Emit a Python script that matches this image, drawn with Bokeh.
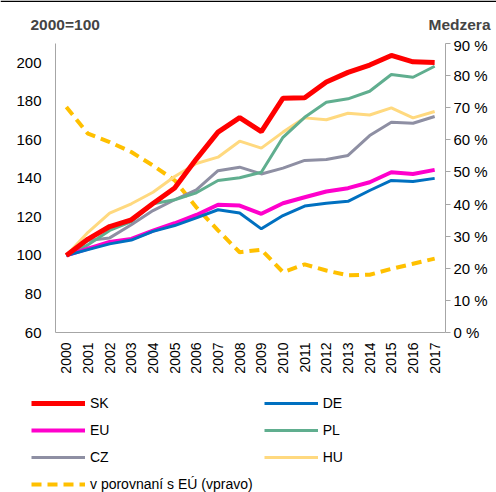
import math
from bokeh.plotting import figure
from bokeh.layouts import column, row
from bokeh.models import (Range1d, FactorRange, LinearAxis, FixedTicker, Legend, LegendItem, Label, Span)
from bokeh.embed import file_html
from bokeh.resources import INLINE

years = [str(y) for y in range(2000, 2018)]
SK = [100, 108.5, 115, 118.5, 127, 135, 150, 164, 171.5, 164.3, 181.6, 181.8, 190, 195, 198.8, 203.8, 200.5, 200.2]
DE = [100, 103, 106, 108, 112.5, 115.5, 119.5, 123.7, 122, 113.8, 120.7, 125.6, 127.1, 128.1, 133.7, 138.9, 138.4, 140]
EU = [100, 103.5, 107, 108.6, 112.9, 116.7, 121, 126.3, 125.9, 121.6, 127.1, 130.2, 133.2, 134.9, 138, 143.2, 142.3, 144.4]
PL = [100, 105.5, 113, 117.6, 126.8, 128.9, 132.5, 138.9, 140.3, 143.2, 161.3, 171.7, 179.5, 181.3, 185.2, 193.9, 192.5, 198.2]
CZ = [100, 107.7, 109.1, 115.9, 123.3, 128.9, 134, 144, 145.8, 142.3, 145.3, 149.3, 149.8, 151.9, 162.2, 169.1, 168.6, 172.1]
HU = [100, 112, 121.9, 126.8, 132.8, 141, 147.7, 151, 159.3, 155.7, 164, 171.4, 170.4, 173.8, 172.9, 176.6, 171.4, 174.7]
GAP = [70.2, 61.9, 59.3, 56.2, 52, 47.4, 39, 31.8, 25, 25.8, 18.8, 21.2, 19.3, 17.8, 18, 19.8, 21.4, 23]

left_ticks = [60, 80, 100, 120, 140, 160, 180, 200]
right_ticks = [0, 10, 20, 30, 40, 50, 60, 70, 80, 90]

series = [
    ("SK", SK, "#FF0000", 5),
    ("DE", DE, "#0070C0", 3),
    ("EU", EU, "#FF00CC", 4),
    ("PL", PL, "#60AE8F", 3),
    ("CZ", CZ, "#8E8FA3", 3),
    ("HU", HU, "#FFD97F", 3),
]
GAP_LABEL = "v porovnaní s EÚ (vpravo)"
GAP_COLOR = "#FFC000"

FONT = "Liberation Sans"
AXIS_COLOR = "#A6A6A6"
W = 496

# ---- header strip with the two axis titles ----
ph = figure(width=W, height=36, x_range=Range1d(0, W), y_range=Range1d(36, 0),
            output_backend="svg", toolbar_location=None,
            x_axis_location=None, y_axis_location=None, min_border=0)
ph.outline_line_color = None
ph.xgrid.visible = False
ph.ygrid.visible = False
ph.add_layout(Span(location=0.75, dimension="width", line_color="#000000", line_width=1.5))
ph.add_layout(Label(x=30, y=23.5, text="2000=100", text_font=FONT, text_font_size="15.5px",
                    text_font_style="bold", text_align="left", text_baseline="middle"))
ph.add_layout(Label(x=490, y=23.5, text="Medzera", text_font=FONT, text_font_size="15.5px",
                    text_font_style="bold", text_align="right", text_baseline="middle"))

# ---- main chart ----
p = figure(width=W, height=341,
           x_range=FactorRange(factors=years, range_padding=0),
           y_range=Range1d(60, 210), output_backend="svg", toolbar_location=None,
           min_border_left=55, min_border_right=51, min_border_top=7, min_border_bottom=45)
p.outline_line_color = None
p.xgrid.visible = False
p.ygrid.visible = False

p.extra_y_ranges = {"gap": Range1d(0, 90)}

ya = p.yaxis[0]
ya.ticker = FixedTicker(ticks=left_ticks)
ya.axis_line_color = AXIS_COLOR
ya.major_tick_line_color = None
ya.minor_tick_line_color = None
ya.major_label_text_font = FONT
ya.major_label_text_font_size = "15px"
ya.major_label_text_color = "#000000"
ya.major_label_standoff = 8

xa = p.xaxis[0]
xa.axis_line_color = AXIS_COLOR
xa.major_tick_line_color = None
xa.minor_tick_line_color = None
xa.major_label_orientation = math.pi / 2
xa.major_label_text_font = FONT
xa.major_label_text_font_size = "14px"
xa.major_label_text_color = "#000000"
xa.major_label_standoff = 4

ra = LinearAxis(y_range_name="gap", ticker=FixedTicker(ticks=right_ticks))
ra.major_label_overrides = {t: f"{t} %" for t in right_ticks}
ra.axis_line_color = AXIS_COLOR
ra.major_tick_line_color = AXIS_COLOR
ra.major_tick_in = 0
ra.major_tick_out = 5
ra.minor_tick_line_color = None
ra.major_label_text_font = FONT
ra.major_label_text_font_size = "15px"
ra.major_label_text_color = "#000000"
ra.major_label_standoff = 3
p.add_layout(ra, "right")

p.line(years, GAP, y_range_name="gap", line_color=GAP_COLOR, line_width=4, line_dash="10 6")
for name, vals, col, lw in reversed(series):
    p.line(years, vals, line_color=col, line_width=lw)

# ---- legend strip ----
pl = figure(width=W, height=115, x_range=Range1d(0, 1), y_range=Range1d(0, 1),
            output_backend="svg", toolbar_location=None,
            x_axis_location=None, y_axis_location=None, min_border=0)
pl.outline_line_color = None
pl.xgrid.visible = False
pl.ygrid.visible = False
items = []
for name, vals, col, lw in series:
    r = pl.line([0, 1], [-5, -5], line_color=col, line_width=lw)
    items.append(LegendItem(label=name, renderers=[r]))
rg = pl.line([0, 1], [-5, -5], line_color=GAP_COLOR, line_width=4, line_dash="10 6")
items.append(LegendItem(label=GAP_LABEL, renderers=[rg]))

legend = Legend(items=items, ncols=2, location=(31, 0), orientation="horizontal")
legend.border_line_color = None
legend.background_fill_alpha = 0
legend.label_text_font = FONT
legend.label_text_font_size = "14px"
legend.label_text_color = "#000000"
legend.glyph_width = 54
legend.glyph_height = 16
legend.label_standoff = 5
legend.spacing = 11
legend.label_height = 16
legend.padding = 0
legend.margin = 0
pl.add_layout(legend, "center")

layout = column(row(ph), row(p), row(pl), spacing=0)
open("out.html", "w").write(file_html(layout, INLINE))
